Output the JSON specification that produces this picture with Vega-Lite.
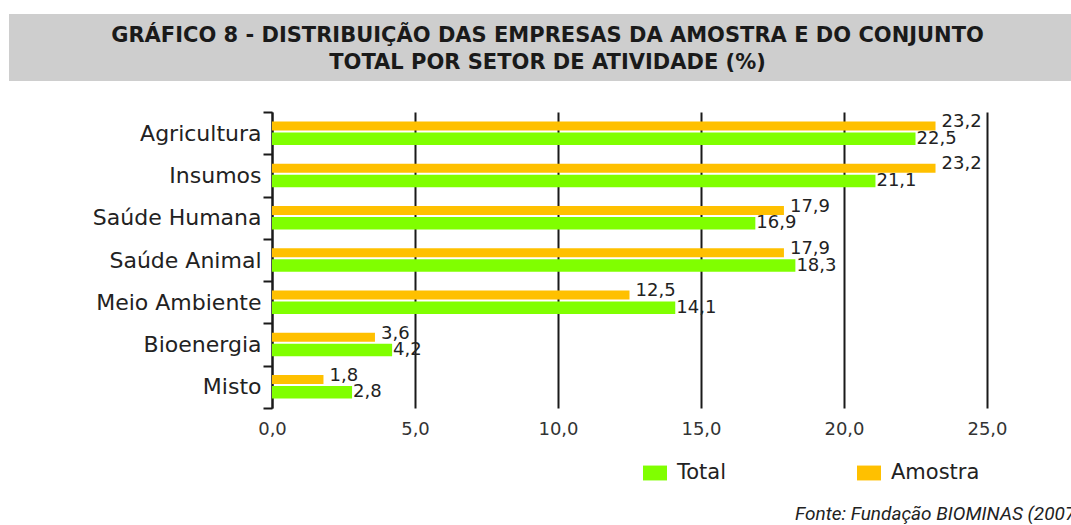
{
  "$schema": "https://vega.github.io/schema/vega-lite/v6.json",
  "padding": {"left": 9, "top": 14, "right": 0, "bottom": 0},
  "background": "white",
  "config": {
    "locale": {"number": {"decimal": ",", "thousands": ".", "grouping": [3], "currency": ["R$", ""]}},
    "view": {"stroke": null},
    "font": "DejaVu Sans"
  },
  "center": true,
  "bounds": "flush",
  "spacing": 31,
  "vconcat": [
    {
      "width": 1241,
      "height": 67,
      "view": {"fill": "#cecece", "stroke": null},
      "data": {"values": [
        {"linha": 1, "texto": "GRÁFICO 8 - DISTRIBUIÇÃO DAS EMPRESAS DA AMOSTRA E DO CONJUNTO"},
        {"linha": 2, "texto": "TOTAL POR SETOR DE ATIVIDADE (%)"}
      ]},
      "mark": {"type": "text", "font": "DejaVu Sans", "fontWeight": "bold", "fontSize": 21, "color": "#1a1a1a", "dx": -82, "dy": 2},
      "encoding": {
        "y": {"field": "linha", "type": "ordinal", "axis": null, "scale": {"type": "point", "padding": 0.75}},
        "text": {"field": "texto"}
      }
    },
    {
      "width": 715,
      "height": 296,
      "title": {
        "text": "Fonte: Fundação BIOMINAS (2007)",
        "orient": "bottom",
        "anchor": "start",
        "frame": "group",
        "dx": 523,
        "offset": 67,
        "font": "Liberation Sans Narrow, Roboto, sans-serif",
        "fontStyle": "italic",
        "fontWeight": "normal",
        "fontSize": 19,
        "color": "#222222"
      },
      "data": {"values": [
        {"setor": "Agricultura", "serie": "Amostra", "valor": 23.2},
        {"setor": "Agricultura", "serie": "Total", "valor": 22.5},
        {"setor": "Insumos", "serie": "Amostra", "valor": 23.2},
        {"setor": "Insumos", "serie": "Total", "valor": 21.1},
        {"setor": "Saúde Humana", "serie": "Amostra", "valor": 17.9},
        {"setor": "Saúde Humana", "serie": "Total", "valor": 16.9},
        {"setor": "Saúde Animal", "serie": "Amostra", "valor": 17.9},
        {"setor": "Saúde Animal", "serie": "Total", "valor": 18.3},
        {"setor": "Meio Ambiente", "serie": "Amostra", "valor": 12.5},
        {"setor": "Meio Ambiente", "serie": "Total", "valor": 14.1},
        {"setor": "Bioenergia", "serie": "Amostra", "valor": 3.6},
        {"setor": "Bioenergia", "serie": "Total", "valor": 4.2},
        {"setor": "Misto", "serie": "Amostra", "valor": 1.8},
        {"setor": "Misto", "serie": "Total", "valor": 2.8}
      ]},
      "encoding": {
        "y": {
          "field": "setor",
          "type": "nominal",
          "sort": ["Agricultura", "Insumos", "Saúde Humana", "Saúde Animal", "Meio Ambiente", "Bioenergia", "Misto"],
          "scale": {"paddingInner": 0, "paddingOuter": 0},
          "axis": {
            "title": null,
            "domainColor": "#1a1a1a",
            "domainWidth": 2,
            "tickColor": "#1a1a1a",
            "tickWidth": 2,
            "tickSize": 9,
            "tickBand": "extent",
            "labelFont": "DejaVu Sans",
            "labelFontSize": 22,
            "labelColor": "#222222",
            "labelPadding": 2,
            "labelLimit": 300,
            "minExtent": 263,
            "maxExtent": 263,
            "grid": false
          }
        },
        "x": {
          "field": "valor",
          "type": "quantitative",
          "scale": {"domain": [0, 25], "nice": false},
          "axis": {
            "title": null,
            "values": [0, 5, 10, 15, 20, 25],
            "format": ".1f",
            "domain": false,
            "ticks": false,
            "grid": true,
            "gridColor": "#1a1a1a",
            "gridWidth": 2,
            "labelFont": "DejaVu Sans",
            "labelFontSize": 18,
            "labelColor": "#333333",
            "labelPadding": 12,
            "labelFlush": false
          }
        }
      },
      "layer": [
        {
          "transform": [{"filter": "datum.serie === 'Amostra'"}],
          "mark": {"type": "bar", "height": 9, "yOffset": -7.25},
          "encoding": {
            "color": {
              "field": "serie",
              "type": "nominal",
              "scale": {"domain": ["Total", "Amostra"], "range": ["#80FF00", "#FFC000"]},
              "legend": {
                "title": null,
                "orient": "none",
                "legendX": 634,
                "legendY": 447,
                "direction": "horizontal",
                "symbolType": "M-1,-0.62H1V0.62H-1Z",
                "symbolSize": 576,
                "symbolStrokeWidth": 0,
                "labelFont": "DejaVu Sans",
                "labelFontSize": 21,
                "labelColor": "#222222",
                "labelOffset": 10,
                "columnPadding": 130,
                "padding": 0
              }
            }
          }
        },
        {
          "transform": [{"filter": "datum.serie === 'Total'"}],
          "mark": {"type": "bar", "height": 12.5, "yOffset": 5.5},
          "encoding": {
            "color": {"field": "serie", "type": "nominal"}
          }
        },
        {
          "transform": [{"filter": "datum.serie === 'Amostra'"}],
          "mark": {"type": "text", "align": "left", "baseline": "middle", "dx": 6, "dy": -11, "font": "DejaVu Sans", "fontSize": 18, "color": "#222222"},
          "encoding": {
            "text": {"field": "valor", "type": "quantitative", "format": ".1f"}
          }
        },
        {
          "transform": [{"filter": "datum.serie === 'Total'"}],
          "mark": {"type": "text", "align": "left", "baseline": "middle", "dx": 1, "dy": 5.5, "font": "DejaVu Sans", "fontSize": 18, "color": "#222222"},
          "encoding": {
            "text": {"field": "valor", "type": "quantitative", "format": ".1f"}
          }
        }
      ]
    }
  ]
}
